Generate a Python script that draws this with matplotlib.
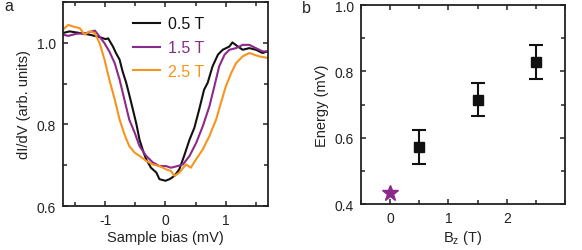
import matplotlib
matplotlib.use("Agg")
import matplotlib.pyplot as plt
from matplotlib.ticker import MultipleLocator

plt.rcParams['font.family'] = ['Liberation Sans', 'DejaVu Sans']
plt.rcParams['axes.unicode_minus'] = False

# Panel a data
bias_05 = [-1.70, -1.59, -1.42, -1.26, -1.09, -0.99, -0.95, -0.87, -0.82, -0.76, -0.71, -0.65, -0.60,
           -0.54, -0.48, -0.43, -0.37, -0.32, -0.24, -0.15, -0.10, 0.00, 0.07, 0.15, 0.23, 0.31, 0.40,
           0.48, 0.56, 0.64, 0.70, 0.78, 0.87, 0.95, 1.06, 1.11, 1.20, 1.28, 1.39, 1.50, 1.61, 1.69]
didv_05 = [1.024, 1.028, 1.024, 1.020, 1.014, 1.009, 1.011, 0.991, 0.975, 0.959, 0.930, 0.902, 0.873,
           0.837, 0.800, 0.763, 0.735, 0.715, 0.694, 0.682, 0.666, 0.662, 0.666, 0.674, 0.690, 0.723, 0.763,
           0.792, 0.837, 0.885, 0.902, 0.942, 0.971, 0.983, 0.991, 1.001, 0.991, 0.983, 0.987, 0.983, 0.975, 0.979]

bias_15 = [-1.70, -1.61, -1.48, -1.31, -1.17, -1.09, -1.01, -0.93, -0.84, -0.76, -0.68, -0.60, -0.51,
           -0.43, -0.32, -0.21, -0.10, 0.01, 0.09, 0.20, 0.29, 0.40, 0.51, 0.62, 0.73, 0.81, 0.89, 0.98,
           1.06, 1.17, 1.28, 1.39, 1.50, 1.61, 1.69]
didv_15 = [1.020, 1.017, 1.022, 1.024, 1.030, 1.015, 0.999, 0.979, 0.950, 0.910, 0.861, 0.812, 0.780,
           0.747, 0.723, 0.707, 0.698, 0.698, 0.694, 0.698, 0.702, 0.723, 0.755, 0.796, 0.845, 0.893, 0.942, 0.971,
           0.983, 0.987, 0.995, 0.995, 0.987, 0.979, 0.979]

bias_25 = [-1.70, -1.61, -1.53, -1.42, -1.34, -1.26, -1.17, -1.09, -1.01, -0.93, -0.84, -0.76, -0.68,
           -0.60, -0.51, -0.43, -0.32, -0.21, -0.10, 0.01, 0.09, 0.15, 0.23, 0.34, 0.42, 0.51, 0.62, 0.73,
           0.84, 0.92, 1.00, 1.09, 1.17, 1.28, 1.39, 1.47, 1.55, 1.69]
didv_25 = [1.032, 1.044, 1.040, 1.036, 1.020, 1.028, 1.024, 0.999, 0.959, 0.910, 0.861, 0.812, 0.776,
           0.747, 0.731, 0.723, 0.711, 0.702, 0.698, 0.690, 0.686, 0.674, 0.682, 0.702, 0.694, 0.715, 0.739, 0.772,
           0.812, 0.853, 0.893, 0.926, 0.950, 0.967, 0.975, 0.971, 0.967, 0.963]

labels_a = ['0.5 T', '1.5 T', '2.5 T']
colors_a = ['#111111', '#8b2a8b', '#f7941d']

# Panel b data
bz = [0.5, 1.5, 2.5]
energy = [0.572, 0.714, 0.829]
energy_err = [0.050, 0.050, 0.052]
star_bz = [0.0]
star_energy = [0.432]

fig = plt.figure(figsize=(5.82, 2.51), dpi=100)
axa = fig.add_axes([0.108, 0.175, 0.3525, 0.813])
axb = fig.add_axes([0.620, 0.183, 0.351, 0.793])

for bias, didv, lab, col in zip([bias_05, bias_15, bias_25], [didv_05, didv_15, didv_25], labels_a, colors_a):
    axa.plot(bias, didv, color=col, lw=1.5, label=lab)

axa.set_xlim(-1.7, 1.7)
axa.set_ylim(0.6, 1.1)
axa.xaxis.set_major_locator(MultipleLocator(1))
axa.xaxis.set_minor_locator(MultipleLocator(0.5))
axa.yaxis.set_major_locator(MultipleLocator(0.2))
axa.yaxis.set_minor_locator(MultipleLocator(0.1))
axa.set_yticks([0.6, 0.8, 1.0])
axa.set_xlabel('Sample bias (mV)', fontsize=10.5, labelpad=2)
axa.set_ylabel('dI/dV (arb. units)', fontsize=10.5, labelpad=4)
leg = axa.legend(loc='upper left', bbox_to_anchor=(0.27, 1.0), frameon=False, fontsize=11.5,
                 handlelength=1.7, handletextpad=0.5, labelspacing=0.55, labelcolor='linecolor')

axb.errorbar(bz, energy, yerr=energy_err, fmt='s', color='#111111', ms=7, capsize=5, elinewidth=1.5, capthick=1.5)
axb.plot(star_bz, star_energy, marker='*', color='#8b2a8b', ms=12, ls='none', clip_on=False)
axb.set_xlim(-0.5, 3.0)
axb.set_ylim(0.4, 1.0)
axb.xaxis.set_major_locator(MultipleLocator(1))
axb.xaxis.set_minor_locator(MultipleLocator(0.5))
axb.set_xticks([0, 1, 2])
axb.yaxis.set_major_locator(MultipleLocator(0.2))
axb.yaxis.set_minor_locator(MultipleLocator(0.1))
axb.set_xlabel(r'B$_\mathregular{z}$ (T)', fontsize=10.5, labelpad=2)
axb.set_ylabel('Energy (mV)', fontsize=10.5, labelpad=4)

for ax in (axa, axb):
    for s in ax.spines.values():
        s.set_linewidth(1.3)
        s.set_color('#222222')
    ax.tick_params(which='both', direction='in', top=True, right=True, width=1.1, color='#222222',
                   labelsize=10, labelcolor='#222222')
    ax.tick_params(which='major', length=3.5, pad=5)
    ax.tick_params(which='minor', length=3)
    ax.yaxis.label.set_color('#222222')
    ax.xaxis.label.set_color('#222222')

fig.text(0.008, 0.955, 'a', fontsize=11.5, color='#222222')
fig.text(0.518, 0.950, 'b', fontsize=11.5, color='#222222')

fig.savefig('out.png', dpi=100)
